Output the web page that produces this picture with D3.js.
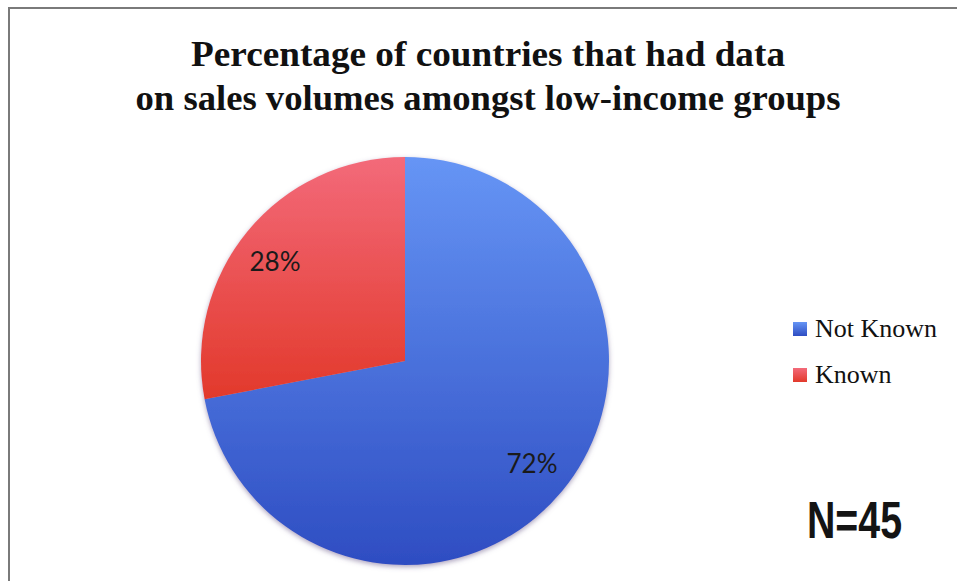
<!DOCTYPE html>
<html>
<head>
<meta charset="utf-8">
<script src="https://cdn.jsdelivr.net/npm/d3@7/dist/d3.min.js"></script>
<style>
  html, body { margin: 0; padding: 0; background: #fff; }
  svg { display: block; }
</style>
</head>
<body>
<svg id="chart" width="957" height="581"></svg>
<script>
// Survey result: share of countries with sales-volume data for low-income groups
const categories = ["Not Known", "Known"];
const shares = [72, 28];
const labels = ["72%", "28%"];
const titleLines = [
  "Percentage of countries that had data",
  "on sales volumes amongst low-income groups"
];
const sampleNote = "N=45";

const svg = d3.select("#chart");

// outer frame
svg.append("path")
  .attr("d", "M9,581 L9,8 L957,8")
  .attr("fill", "none")
  .attr("stroke", "#7a7a7a")
  .attr("stroke-width", 2);

// title
const titleWidths = [594, 705];
svg.append("g").selectAll("text")
  .data(titleLines)
  .join("text")
  .attr("x", 488)
  .attr("y", (d, i) => 66 + i * 44)
  .attr("text-anchor", "middle")
  .attr("font-family", "'Liberation Serif', 'Times New Roman', serif")
  .attr("font-weight", "bold")
  .attr("font-size", 35)
  .attr("fill", "#111")
  .attr("textLength", (d, i) => titleWidths[i])
  .attr("lengthAdjust", "spacingAndGlyphs")
  .text(d => d);

// colours: top / bottom of each slice's gradient
const colorTop = d3.scaleOrdinal().domain(categories).range(["#6695f5", "#f36a7a"]);
const colorBot = d3.scaleOrdinal().domain(categories).range(["#2e4dc2", "#e2392b"]);

const defs = svg.append("defs");
categories.forEach((c, i) => {
  const g = defs.append("linearGradient")
    .attr("id", "grad" + i)
    .attr("x1", 0).attr("y1", 0).attr("x2", 0).attr("y2", 1);
  g.append("stop").attr("offset", "0%").attr("stop-color", colorTop(c));
  g.append("stop").attr("offset", "100%").attr("stop-color", colorBot(c));
});
const shadow = defs.append("filter").attr("id", "soft")
  .attr("x", "-10%").attr("y", "-10%").attr("width", "120%").attr("height", "125%");
shadow.append("feGaussianBlur").attr("in", "SourceAlpha").attr("stdDeviation", 2.5).attr("result", "b");
shadow.append("feOffset").attr("in", "b").attr("dy", 2).attr("result", "o");
shadow.append("feFlood").attr("flood-color", "#6a5a8a").attr("flood-opacity", 0.55);
shadow.append("feComposite").attr("in2", "o").attr("operator", "in").attr("result", "s");
const merge = shadow.append("feMerge");
merge.append("feMergeNode").attr("in", "s");
merge.append("feMergeNode").attr("in", "SourceGraphic");

// pie
const cx = 405, cy = 361, R = 204;
const pie = d3.pie().sort(null).value(d => d.v);
const arcs = pie(categories.map((c, i) => ({ c, v: shares[i], label: labels[i] })));
const arc = d3.arc().innerRadius(0).outerRadius(R);

const pg = svg.append("g").attr("transform", `translate(${cx},${cy})`);
const slices = pg.append("g").attr("filter", "url(#soft)");
slices.selectAll("path")
  .data(arcs)
  .join("path")
  .attr("d", arc)
  .attr("fill", (d, i) => `url(#grad${i})`);

// value labels
const labelPos = [[127, 112], [-130, -90]];
pg.selectAll("text.val")
  .data(arcs)
  .join("text")
  .attr("class", "val")
  .attr("x", (d, i) => labelPos[i][0])
  .attr("y", (d, i) => labelPos[i][1])
  .attr("text-anchor", "middle")
  .attr("font-family", "Lato, 'Open Sans', sans-serif")
  .attr("font-size", 26)
  .attr("fill", "#1a1a1a")
  .text(d => d.data.label);

// legend
const lg = svg.append("g").attr("transform", "translate(793,322)");
const items = lg.selectAll("g").data(categories).join("g")
  .attr("transform", (d, i) => `translate(0,${i * 46})`);
items.append("rect")
  .attr("width", 14).attr("height", 14)
  .attr("fill", (d, i) => `url(#grad${i})`);
items.append("text")
  .attr("x", 22).attr("y", 15)
  .attr("font-family", "'Liberation Serif', 'DejaVu Serif', serif")
  .attr("font-size", 26)
  .attr("fill", "#111")
  .text(d => d);

// sample size
svg.append("text")
  .attr("x", 807).attr("y", 538)
  .attr("font-family", "'Liberation Sans Narrow', 'Liberation Sans', Arial, sans-serif")
  .attr("font-weight", "bold")
  .attr("font-size", 52)
  .attr("fill", "#141414")
  .attr("textLength", 95)
  .attr("lengthAdjust", "spacingAndGlyphs")
  .text(sampleNote);
</script>
</body>
</html>
